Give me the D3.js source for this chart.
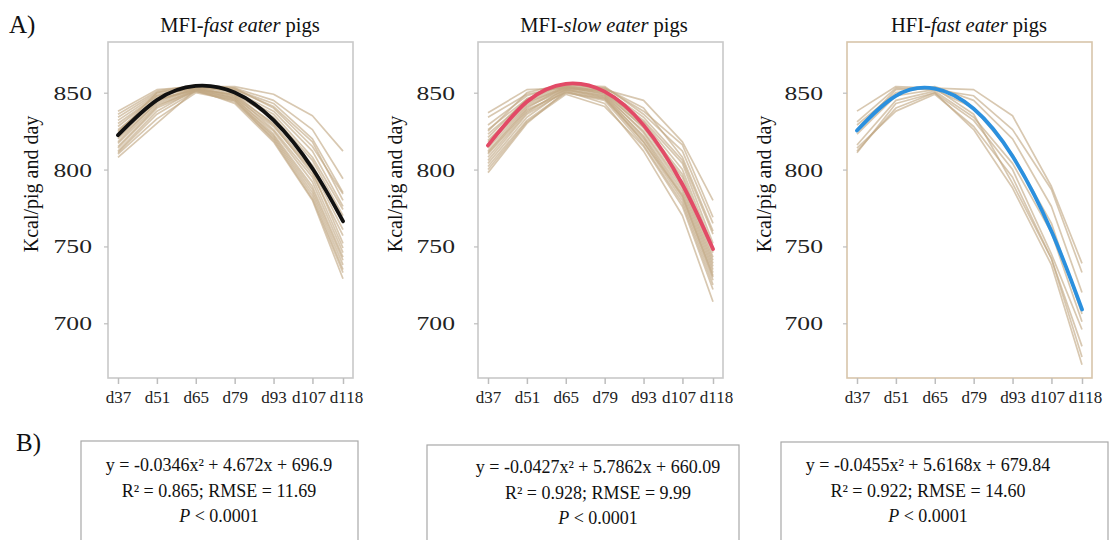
<!DOCTYPE html>
<html><head><meta charset="utf-8">
<script src="https://cdn.jsdelivr.net/npm/d3@7"></script>
<style>
body{margin:0;background:#fff;}
svg{display:block;font-family:"Liberation Serif","Times New Roman",serif;}
</style></head>
<body>
<svg id="chart" width="1110" height="540"></svg>
<script>
// ---------------- data ----------------
const days = [37, 51, 65, 79, 93, 107, 118];
const dayLabels = ["d37", "d51", "d65", "d79", "d93", "d107", "d118"];
const yTicks = [700, 750, 800, 850];

// individual pigs, MFI-fast eater (kcal/pig and day at each day)
const pigsMFIfast = [
  [838, 852, 854, 854, 849, 835, 812],
  [836, 851, 855, 853, 845, 826, 794],
  [834, 850, 854, 852, 843, 820, 785],
  [832, 849, 853, 852, 841, 818, 780],
  [830, 848, 854, 851, 838, 812, 776],
  [828, 848, 853, 850, 836, 808, 774],
  [826, 846, 852, 849, 834, 806, 770],
  [825, 847, 854, 851, 832, 803, 765],
  [823, 845, 853, 848, 830, 800, 761],
  [821, 845, 852, 849, 829, 797, 757],
  [820, 843, 852, 847, 828, 799, 752],
  [818, 844, 853, 848, 826, 795, 749],
  [817, 842, 851, 846, 825, 792, 746],
  [815, 841, 852, 847, 823, 789, 743],
  [814, 840, 851, 845, 822, 787, 741],
  [812, 838, 852, 846, 821, 785, 738],
  [811, 836, 851, 844, 820, 783, 735],
  [810, 833, 850, 845, 819, 781, 733],
  [808, 830, 852, 843, 818, 780, 729],
  [824, 850, 855, 853, 840, 815, 784]
];
// individual pigs, MFI-slow eater
const pigsMFIslow = [
  [837, 852, 853, 852, 845, 818, 780],
  [834, 849, 854, 853, 838, 816, 769],
  [829, 848, 855, 854, 836, 812, 765],
  [826, 846, 856, 852, 834, 806, 758],
  [823, 845, 854, 851, 832, 804, 752],
  [821, 846, 855, 850, 831, 800, 749],
  [819, 844, 853, 851, 829, 797, 746],
  [818, 843, 854, 849, 828, 795, 743],
  [816, 842, 853, 850, 827, 792, 741],
  [814, 841, 852, 848, 825, 790, 739],
  [812, 840, 854, 849, 824, 788, 737],
  [810, 838, 852, 847, 822, 786, 735],
  [808, 837, 853, 848, 821, 784, 733],
  [806, 836, 851, 846, 820, 782, 731],
  [804, 834, 852, 847, 818, 780, 728],
  [802, 832, 850, 845, 816, 778, 725],
  [800, 831, 849, 841, 815, 776, 722],
  [798, 830, 851, 843, 812, 770, 714],
  [825, 850, 856, 853, 840, 808, 760],
  [811, 839, 850, 846, 818, 783, 730]
];
// individual pigs, HFI-fast eater
const pigsHFIfast = [
  [838, 854, 853, 852, 835, 789, 739],
  [831, 853, 852, 848, 826, 787, 733],
  [829, 850, 854, 845, 820, 776, 720],
  [823, 848, 852, 840, 810, 765, 706],
  [816, 845, 851, 834, 804, 759, 701],
  [811, 843, 850, 832, 800, 745, 696],
  [814, 838, 849, 828, 795, 742, 685],
  [826, 852, 853, 836, 791, 742, 678],
  [812, 840, 850, 826, 788, 738, 673]
];

// fitted curves read at each day
const fitMFIfast = [822.4, 845.2, 854.4, 850.1, 832.1, 800.7, 766.4];
const fitMFIslow = [815.7, 844.1, 855.8, 850.7, 828.9, 790.3, 748.3];
const fitHFIfast = [825.4, 848.0, 852.7, 839.6, 808.7, 759.9, 709.0];

const titlesPre = ["MFI-", "MFI-", "HFI-"];
const titlesIt = ["fast eater", "slow eater", "fast eater"];
const titlesPost = [" pigs", " pigs", " pigs"];
const yLabel = "Kcal/pig and day";

const eqLines = [
  "y = -0.0346x\u00B2 + 4.672x + 696.9",
  "y = -0.0427x\u00B2 + 5.7862x + 660.09",
  "y = -0.0455x\u00B2 + 5.6168x + 679.84"
];
const statLines = [
  "R\u00B2 = 0.865; RMSE = 11.69",
  "R\u00B2 = 0.928; RMSE = 9.99",
  "R\u00B2 = 0.922; RMSE = 14.60"
];
const pLines = ["< 0.0001", "< 0.0001", "< 0.0001"];

// ---------------- layout ----------------
const panels = [
  {fx: 108, pigs: pigsMFIfast, fit: fitMFIfast, fitColor: "#111111", frame: "#c9c9c9", titleX: 240, labX: 31, tickR: 92,
   box: {x: 81, y: 441, w: 277, cx: 219, base: 471}},
  {fx: 478, pigs: pigsMFIslow, fit: fitMFIslow, fitColor: "#e24a66", frame: "#c9c9c9", titleX: 604, labX: 395, tickR: 455,
   box: {x: 427, y: 445, w: 312, cx: 598, base: 473}},
  {fx: 847, pigs: pigsHFIfast, fit: fitHFIfast, fitColor: "#2b90de", frame: "#d8c5aa", titleX: 969, labX: 764, tickR: 823,
   box: {x: 781, y: 442, w: 327, cx: 928, base: 471}}
];
const FW = 245, FT = 42, FB = 378;
const labelNudge = [0, 0, 0, 0, 0, -4, 3];

const svg = d3.select("#chart");

svg.append("text").attr("x", 9).attr("y", 33).attr("font-size", 25).attr("fill", "#111").text("A)");
svg.append("text").attr("x", 16).attr("y", 451).attr("font-size", 25).attr("fill", "#111").text("B)");

const y = d3.scaleLinear().domain([700, 850]).range([323.3, 92.7]);

panels.forEach((p, i) => {
  const g = svg.append("g");
  const x = d3.scaleLinear().domain([37, 118]).range([p.fx + 10, p.fx + FW - 10]);

  // frame
  g.append("rect").attr("x", p.fx).attr("y", FT).attr("width", FW).attr("height", FB - FT)
    .attr("fill", "none").attr("stroke", p.frame).attr("stroke-width", 1.6);

  // x axis
  const xa = g.append("g").attr("transform", `translate(0,${FB})`)
    .call(d3.axisBottom(x).tickValues(days).tickFormat((d, k) => dayLabels[k]).tickSize(6).tickSizeOuter(0));
  xa.select(".domain").remove();
  xa.selectAll("line").attr("stroke", "#bdbdbd").attr("stroke-width", 1.5);
  xa.selectAll("text").attr("font-family", "Liberation Serif").attr("font-size", 17).attr("fill", "#222")
    .attr("dy", null).attr("y", 25).attr("x", (d, k) => labelNudge[k]);

  // y axis
  const ya = g.append("g").attr("transform", `translate(${p.fx},0)`)
    .call(d3.axisLeft(y).tickValues(yTicks).tickSize(4).tickSizeOuter(0));
  ya.select(".domain").remove();
  ya.selectAll("line").attr("stroke", "#bdbdbd").attr("stroke-width", 1.2);
  ya.selectAll("text").attr("font-family", "Liberation Serif").attr("font-size", 19).attr("fill", "#222")
    .attr("x", null).attr("dy", null).attr("text-anchor", "end")
    .attr("transform", `translate(${p.tickR - p.fx},6.5) scale(1.35,1)`);

  // y label
  g.append("text").attr("transform", `translate(${p.labX},${184}) rotate(-90)`)
    .attr("text-anchor", "middle").attr("dominant-baseline", "central").attr("font-size", 20).attr("fill", "#111").text(yLabel);

  // title
  const t = g.append("text").attr("x", p.titleX).attr("y", 32).attr("text-anchor", "middle").attr("font-size", 20.5).attr("fill", "#111");
  t.append("tspan").text(titlesPre[i]);
  t.append("tspan").attr("font-style", "italic").text(titlesIt[i]);
  t.append("tspan").text(titlesPost[i]);

  // individual lines
  const line = d3.line().x((d, k) => x(days[k])).y(d => y(d));
  g.append("g").selectAll("path").data(p.pigs).join("path")
    .attr("d", line).attr("fill", "none").attr("stroke", "#c2a883").attr("stroke-opacity", 0.63)
    .attr("stroke-width", 1.7).attr("stroke-linejoin", "round");

  // fitted curve
  const fline = d3.line().x((d, k) => x(days[k])).y(d => y(d)).curve(d3.curveNatural);
  g.append("path").attr("d", fline(p.fit)).attr("fill", "none").attr("stroke", p.fitColor)
    .attr("stroke-width", 3.8).attr("stroke-linecap", "round");

  // equation box
  const b = p.box;
  g.append("rect").attr("x", b.x).attr("y", b.y).attr("width", b.w).attr("height", 120)
    .attr("fill", "none").attr("stroke", "#a8a8a8").attr("stroke-width", 1.2);
  g.append("text").attr("x", b.cx).attr("y", b.base).attr("text-anchor", "middle").attr("font-size", 18).attr("fill", "#111").text(eqLines[i]);
  g.append("text").attr("x", b.cx).attr("y", b.base + 25.5).attr("text-anchor", "middle").attr("font-size", 18).attr("fill", "#111").text(statLines[i]);
  const pt = g.append("text").attr("x", b.cx).attr("y", b.base + 51).attr("text-anchor", "middle").attr("font-size", 18).attr("fill", "#111");
  pt.append("tspan").attr("font-style", "italic").text("P");
  pt.append("tspan").text(" " + pLines[i]);
});
</script>
</body></html>
